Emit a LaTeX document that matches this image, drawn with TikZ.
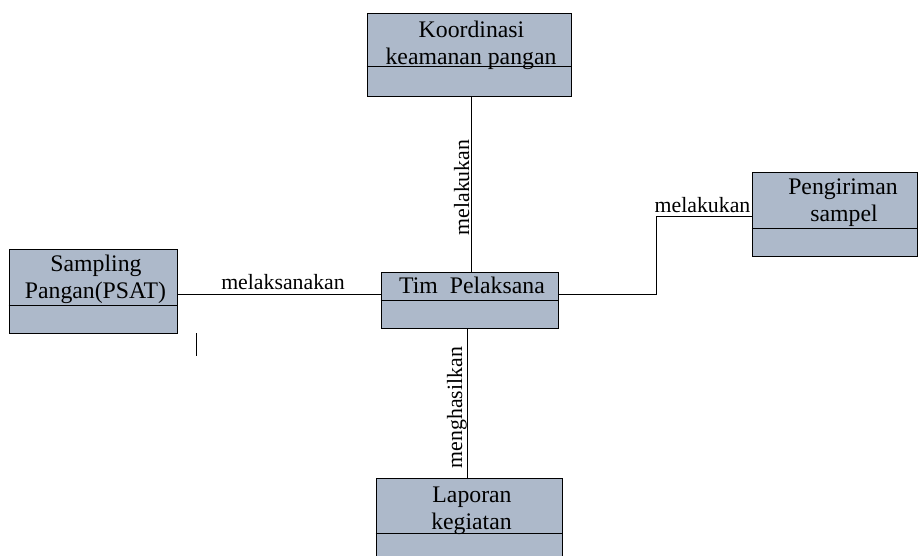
\documentclass[tikz,border=0pt]{standalone}
\usepackage{fontspec}
\setmainfont{Liberation Serif}
\definecolor{boxfill}{HTML}{ADB9CA}
\tikzset{
  x=1pt, y=-1pt,
  entity/.style={draw=black, line width=1pt, fill=boxfill, inner sep=0pt},
  divider/.style={draw=black, line width=1pt},
  conn/.style={draw=black, line width=0.8pt},
  lbl/.style={inner sep=0pt, anchor=base, font=\fontsize{23.75}{27}\selectfont},
  rel/.style={inner sep=0pt, anchor=base, font=\fontsize{21.8}{26}\selectfont}
}
\begin{document}
\begin{tikzpicture}
\clip (0,0) rectangle (918,556);
\fill[white] (0,0) rectangle (918,556);
% boxes
\node[entity, minimum width=204pt, minimum height=83pt] (koord) at (469,55) {};
\node[entity, minimum width=177pt, minimum height=56pt] (tim) at (469.5,300) {};
\node[entity, minimum width=168pt, minimum height=84pt] (samp) at (93,291) {};
\node[entity, minimum width=165pt, minimum height=83pt] (peng) at (834.5,214.5) {};
\node[entity, minimum width=186pt, minimum height=84pt] (lap) at (469,520) {};
% dividers
\draw[divider] (koord.west |- 0,67) -- (koord.east |- 0,67);
\draw[divider] (tim.west |- 0,300) -- (tim.east |- 0,300);
\draw[divider] (samp.west |- 0,305) -- (samp.east |- 0,305);
\draw[divider] (peng.west |- 0,228) -- (peng.east |- 0,228);
\draw[divider] (lap.west |- 0,533) -- (lap.east |- 0,533);
% box texts
\node[lbl] (koordt1) at (471.5,38) {Koordinasi};
\node[lbl] (koordt2) at (471,65) {keamanan pangan};
\node[lbl] (timt) at (472,293) {Tim\enspace Pelaksana};
\node[lbl] (sampt1) at (96,271) {Sampling};
\node[lbl] (sampt2) at (95.5,298) {Pangan(PSAT)};
\node[lbl] (pengt1) at (843,195) {Pengiriman};
\node[lbl] (pengt2) at (844,222) {sampel};
\node[lbl] (lapt1) at (472,502) {Laporan};
\node[lbl] (lapt2) at (471.5,529) {kegiatan};
% connectors
\draw[conn] ([xshift=2.5pt]koord.south) -- ([xshift=2.5pt]koord.south |- tim.north);
\draw[conn] (samp.east |- 0,294) -- (tim.west |- 0,294);
\draw[conn] (tim.east |- 0,294) -| (656,216) -- (peng.west |- 0,216);
\draw[conn] ([xshift=-2.5pt]tim.south) -- ([xshift=-2.5pt]tim.south |- lap.north);
\coordinate (m1) at (196,333);
\coordinate (m2) at (196,356);
\draw[conn] (m1) -- (m2);
% relation labels
\node[rel] (r1) at (283,289) {melaksanakan};
\node[rel, rotate=90] (r2) at (469,187.5) {melakukan};
\node[rel] (r3) at (702.5,213) {melakukan};
\node[rel, rotate=90] (r4) at (462,407.5) {menghasilkan};
\end{tikzpicture}
\end{document}
